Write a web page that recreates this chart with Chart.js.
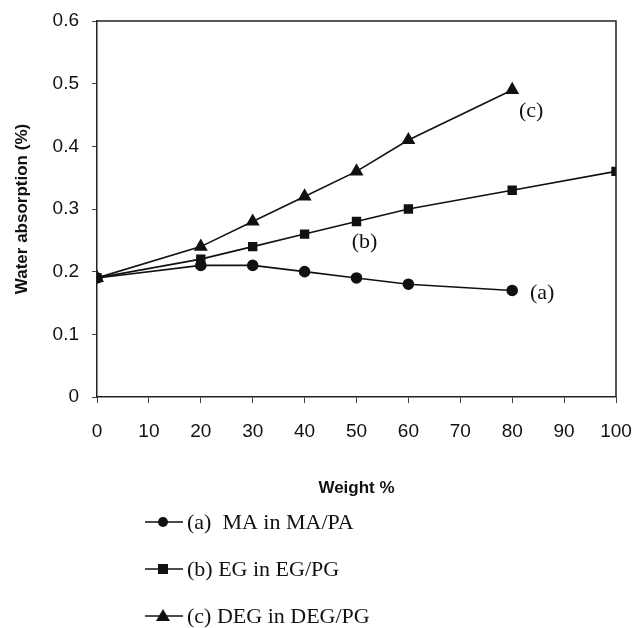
<!DOCTYPE html>
<html>
<head>
<meta charset="utf-8">
<script src="https://cdn.jsdelivr.net/npm/chart.js@4/dist/chart.umd.min.js"></script>
<style>
  html, body { margin: 0; padding: 0; background: #fff; }
  #wrap { width: 641px; height: 628px; }
</style>
</head>
<body>
<div id="wrap"><canvas id="chart" width="641" height="628"></canvas></div>
<script>
// Wasseraufnahme je Gewichtsanteil
const weightMA = [0, 20, 30, 40, 50, 60, 80];
const absorptionMA = [0.19, 0.21, 0.21, 0.20, 0.19, 0.18, 0.17];

const weightEG = [0, 20, 30, 40, 50, 60, 80, 100];
const absorptionEG = [0.19, 0.22, 0.24, 0.26, 0.28, 0.30, 0.33, 0.36];

const weightDEG = [0, 20, 30, 40, 50, 60, 80];
const absorptionDEG = [0.19, 0.24, 0.28, 0.32, 0.36, 0.41, 0.49];

const seriesNames = ['(a)  MA in MA/PA', '(b) EG in EG/PG', '(c) DEG in DEG/PG'];
const curveTags = ['(a)', '(b)', '(c)'];

const xTicks = [0, 10, 20, 30, 40, 50, 60, 70, 80, 90, 100];
const yTicks = [0, 0.1, 0.2, 0.3, 0.4, 0.5, 0.6];

function toPoints(xs, ys) {
  return xs.map((x, i) => ({ x: x, y: ys[i] }));
}

const serif = '"Liberation Serif", "Times New Roman", serif';
const sans = '"Liberation Sans", Arial, sans-serif';

const lineStyle = {
  borderColor: '#111',
  backgroundColor: '#111',
  pointBackgroundColor: '#111',
  pointBorderColor: '#111',
  borderWidth: 1.6,
  tension: 0,
  fill: false
};

// Rahmen oben und rechts
const framePlugin = {
  id: 'frame',
  afterDraw(chart) {
    const { ctx, chartArea: a } = chart;
    ctx.save();
    ctx.strokeStyle = '#222';
    ctx.lineWidth = 1.5;
    ctx.beginPath();
    ctx.moveTo(a.left, a.top);
    ctx.lineTo(a.right, a.top);
    ctx.lineTo(a.right, a.bottom);
    ctx.stroke();
    ctx.restore();
  }
};

// Beschriftung (a), (b), (c) an den Kurven
const tagPlugin = {
  id: 'tags',
  afterDatasetsDraw(chart) {
    const { ctx, scales: { x, y } } = chart;
    const spots = [
      { ds: 0, idx: 6, dx: 30, dy: 3 },
      { ds: 1, idx: 4, dx: 8, dy: 21 },
      { ds: 2, idx: 6, dx: 19, dy: 21 }
    ];
    ctx.save();
    ctx.fillStyle = '#111';
    ctx.font = '22px ' + serif;
    ctx.textAlign = 'center';
    ctx.textBaseline = 'middle';
    spots.forEach(s => {
      const p = chart.data.datasets[s.ds].data[s.idx];
      ctx.fillText(curveTags[s.ds], x.getPixelForValue(p.x) + s.dx, y.getPixelForValue(p.y) + s.dy);
    });
    ctx.restore();
  }
};

// Legende untereinander unter dem Diagramm
const legendPlugin = {
  id: 'stackedLegend',
  afterDraw(chart) {
    const { ctx } = chart;
    const rowY = [522, 569, 616];
    ctx.save();
    chart.data.datasets.forEach((ds, i) => {
      const yy = rowY[i];
      ctx.strokeStyle = '#111';
      ctx.lineWidth = 1.6;
      ctx.beginPath();
      ctx.moveTo(145, yy);
      ctx.lineTo(183, yy);
      ctx.stroke();
      ctx.fillStyle = '#111';
      ctx.beginPath();
      if (ds.pointStyle === 'circle') {
        ctx.arc(163, yy, 5, 0, Math.PI * 2);
      } else if (ds.pointStyle === 'rect') {
        ctx.rect(158, yy - 5, 10, 10);
      } else {
        ctx.moveTo(163, yy - 7);
        ctx.lineTo(170, yy + 5);
        ctx.lineTo(156, yy + 5);
        ctx.closePath();
      }
      ctx.fill();
      ctx.font = '22px ' + serif;
      ctx.textAlign = 'left';
      ctx.textBaseline = 'middle';
      ctx.fillText(seriesNames[i], 187, yy + 1);
    });
    ctx.restore();
  }
};

new Chart(document.getElementById('chart'), {
  type: 'line',
  data: {
    datasets: [
      Object.assign({ label: seriesNames[0], data: toPoints(weightMA, absorptionMA), pointStyle: 'circle', pointRadius: 5 }, lineStyle),
      Object.assign({ label: seriesNames[1], data: toPoints(weightEG, absorptionEG), pointStyle: 'rect', pointRadius: 5.5 }, lineStyle),
      Object.assign({ label: seriesNames[2], data: toPoints(weightDEG, absorptionDEG), pointStyle: 'triangle', pointRadius: 6.5 }, lineStyle)
    ]
  },
  options: {
    responsive: false,
    animation: false,
    layout: { padding: { top: 21, right: 25, bottom: 121, left: 0 } },
    plugins: {
      legend: { display: false },
      tooltip: { enabled: false }
    },
    scales: {
      x: {
        type: 'linear',
        min: 0,
        max: 100,
        afterBuildTicks: s => { s.ticks = xTicks.map(v => ({ value: v })); },
        afterFit: s => { s.height = 110; s.paddingLeft = 0; s.paddingRight = 0; },
        border: { color: '#222', width: 1.5 },
        grid: { drawOnChartArea: false, drawTicks: true, tickLength: 6, color: '#444' },
        ticks: { color: '#111', padding: 17, maxRotation: 0, font: { family: sans, size: 19 } },
        title: { display: true, text: 'Weight %', color: '#111', padding: { top: 0, bottom: 8 }, font: { family: sans, size: 17, weight: 'bold' } }
      },
      y: {
        type: 'linear',
        min: 0,
        max: 0.6,
        afterBuildTicks: s => { s.ticks = yTicks.map(v => ({ value: v })); },
        afterFit: s => { s.width = 97; s.paddingTop = 0; s.paddingBottom = 0; },
        border: { color: '#222', width: 1.5 },
        grid: { drawOnChartArea: false, drawTicks: true, tickLength: 5, color: '#444' },
        ticks: { color: '#111', padding: 13, font: { family: sans, size: 19 }, callback: v => String(Math.round(v * 10) / 10) },
        title: { display: true, text: 'Water absorption (%)', color: '#111', padding: { top: 12, bottom: 0 }, font: { family: sans, size: 17, weight: 'bold' } }
      }
    }
  },
  plugins: [framePlugin, tagPlugin, legendPlugin]
});
</script>
</body>
</html>
